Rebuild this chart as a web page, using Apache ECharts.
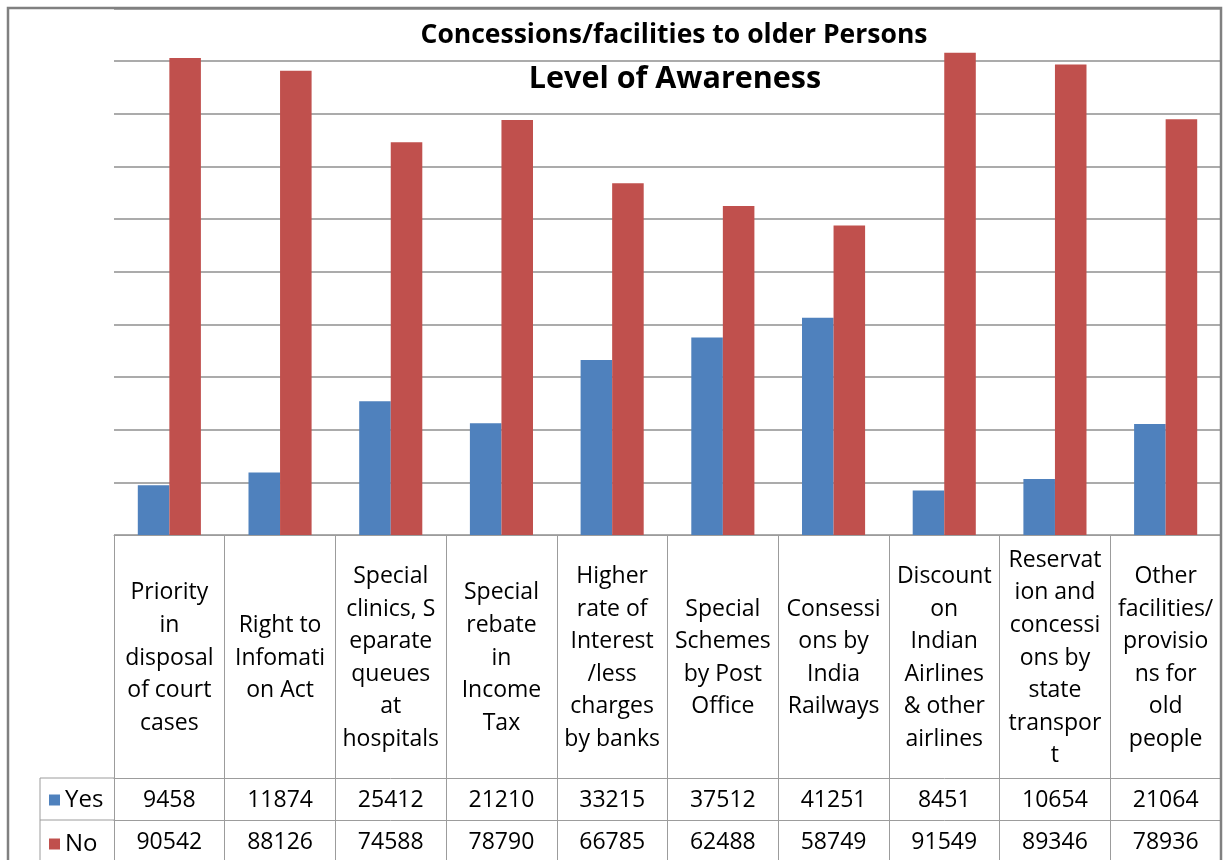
<!DOCTYPE html>
<html>
<head>
<meta charset="utf-8">
<title>Level of Awareness</title>
<script src="https://cdn.jsdelivr.net/npm/echarts@6.0.0/dist/echarts.min.js"></script>
<style>
  html, body { margin: 0; padding: 0; background: #fff; }
  #chart { width: 1224px; height: 860px; }
</style>
</head>
<body>
<div id="chart"></div>
<script>
// categories, wrapped the same way the table cells wrap them
const categories = [
  'Priority\nin\ndisposal\nof court\ncases',
  'Right to\nInfomati\non Act',
  'Special\nclinics, S\neparate\nqueues\nat\nhospitals',
  'Special\nrebate\nin\nIncome\nTax',
  'Higher\nrate of\nInterest\n/less\ncharges\nby banks',
  'Special\nSchemes\nby Post\nOffice',
  'Consessi\nons by\nIndia\nRailways',
  'Discount\non\nIndian\nAirlines\n& other\nairlines',
  'Reservat\nion and\nconcessi\nons by\nstate\ntranspor\nt',
  'Other\nfacilities/\nprovisio\nns for\nold\npeople'
]
const yesValues = [9458, 11874, 25412, 21210, 33215, 37512, 41251, 8451, 10654, 21064]
const noValues = [90542, 88126, 74588, 78790, 66785, 62488, 58749, 91549, 89346, 78936]
const seriesNames = ['Yes', 'No']

const FONT = '"Open Sans"'
const lineColor = '#9c9c9c'

const chart = echarts.init(document.getElementById('chart'))

const tableRowAxis = (offset, values) => ({
  type: 'category',
  gridIndex: 0,
  position: 'bottom',
  offset: offset,
  data: categories,
  axisLine: { show: true, lineStyle: { color: lineColor, width: 1 } },
  axisTick: { show: false },
  axisLabel: {
    interval: 0,
    margin: 22,
    verticalAlign: 'middle',
    fontFamily: FONT,
    fontSize: 23,
    color: '#000',
    formatter: (v, i) => String(values[i])
  }
})

const option = {
  backgroundColor: '#fff',
  animation: false,
  title: [
    {
      text: 'Concessions/facilities to older Persons',
      left: 674,
      top: 20,
      padding: 0,
      textAlign: 'center',
      textStyle: { fontFamily: FONT, fontSize: 26.5, fontWeight: 'bold', color: '#000', lineHeight: 30 }
    },
    {
      text: 'Level of Awareness',
      left: 675,
      top: 61,
      padding: 0,
      textAlign: 'center',
      textStyle: { fontFamily: FONT, fontSize: 30.5, fontWeight: 'bold', color: '#000', lineHeight: 36 }
    }
  ],
  legend: {
    data: seriesNames,
    orient: 'vertical',
    left: 49,
    top: 788,
    padding: 0,
    icon: 'rect',
    itemWidth: 11,
    itemHeight: 11,
    itemGap: 20,
    selectedMode: false,
    textStyle: { fontFamily: FONT, fontSize: 24, lineHeight: 22, color: '#000' }
  },
  grid: { left: 114, right: 3, top: 8.3, bottom: 325, containLabel: false },
  xAxis: [
    {
      type: 'category',
      gridIndex: 0,
      position: 'bottom',
      data: categories,
      axisLine: { show: true, lineStyle: { color: lineColor, width: 1 } },
      // long ticks = the vertical rules of the data table
      axisTick: { show: true, alignWithLabel: false, length: 330, lineStyle: { color: lineColor, width: 1 } },
      axisLabel: {
        interval: 0,
        margin: 123,
        verticalAlign: 'middle',
        fontFamily: FONT,
        fontSize: 23,
        lineHeight: 32.6,
        color: '#000'
      }
    },
    tableRowAxis(243, yesValues),
    tableRowAxis(285, noValues)
  ],
  yAxis: {
    type: 'value',
    min: 0,
    max: 100000,
    interval: 10000,
    axisLine: { show: false },
    axisTick: { show: false },
    axisLabel: { show: false },
    splitLine: { show: true, lineStyle: { color: '#8f8f8f', width: 1.5 } }
  },
  series: [
    {
      name: seriesNames[0],
      type: 'bar',
      xAxisIndex: 0,
      data: yesValues,
      barGap: '0%',
      barCategoryGap: '43%',
      itemStyle: { color: '#4F81BD' }
    },
    {
      name: seriesNames[1],
      type: 'bar',
      xAxisIndex: 0,
      data: noValues,
      barGap: '0%',
      barCategoryGap: '43%',
      itemStyle: { color: '#C0504D' }
    }
  ],
  graphic: [
    // chart area frame
    { type: 'rect', silent: true, z: 100, shape: { x: 8, y: 8, width: 1213, height: 900 }, style: { fill: 'none', stroke: '#808080', lineWidth: 2.5 } },
    // legend column of the data table
    { type: 'line', silent: true, shape: { x1: 40, y1: 778, x2: 114, y2: 778 }, style: { stroke: lineColor, lineWidth: 1 } },
    { type: 'line', silent: true, shape: { x1: 40, y1: 820, x2: 114, y2: 820 }, style: { stroke: lineColor, lineWidth: 1 } },
    { type: 'line', silent: true, shape: { x1: 40, y1: 778, x2: 40, y2: 870 }, style: { stroke: lineColor, lineWidth: 1 } }
  ]
}

chart.setOption(option)
</script>
</body>
</html>
